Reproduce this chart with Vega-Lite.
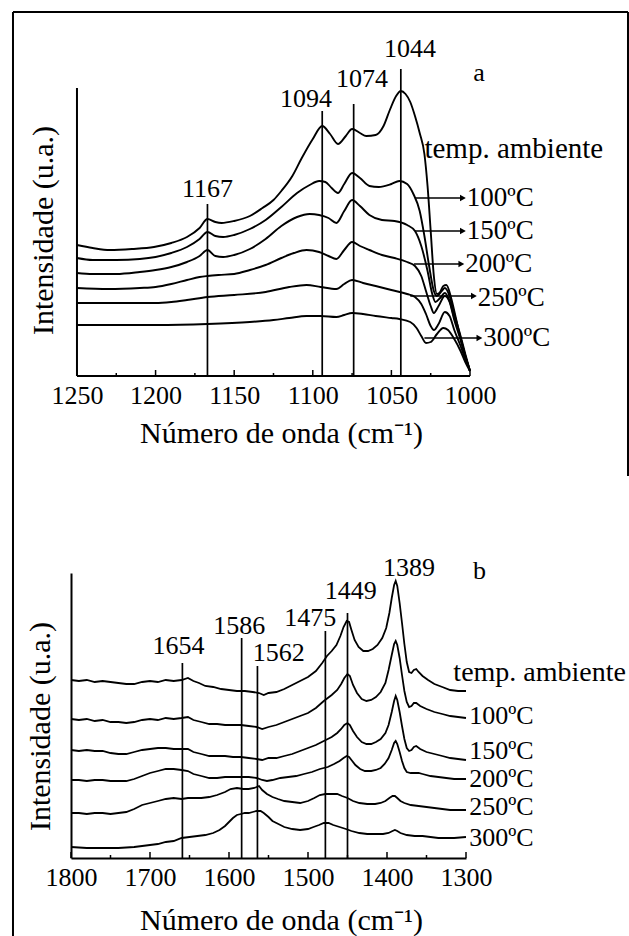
{
  "$schema": "https://vega.github.io/schema/vega-lite/v6.json",
  "padding": {"left": 11, "top": 11, "right": 0, "bottom": 0},
  "background": "white",
  "spacing": 197,
  "bounds": "flush",
  "config": {
    "view": {"stroke": null},
    "font": "Liberation Serif",
    "text": {"font": "Liberation Serif", "color": "#000"},
    "axis": {"labelFont": "Liberation Serif", "titleFont": "Liberation Serif", "labelColor": "#000", "titleColor": "#000", "titleFontWeight": "normal", "domainColor": "#000", "domainWidth": 2, "grid": false}
  },
  "datasets": {
    "a_spec": [
      {"s":"temp. ambiente","w":1250,"I":131},{"s":"temp. ambiente","w":1240,"I":128},{"s":"temp. ambiente","w":1229,"I":126},{"s":"temp. ambiente","w":1215,"I":127},{"s":"temp. ambiente","w":1201,"I":129},{"s":"temp. ambiente","w":1190,"I":133},{"s":"temp. ambiente","w":1180,"I":139},{"s":"temp. ambiente","w":1172,"I":148},{"s":"temp. ambiente","w":1167,"I":157},{"s":"temp. ambiente","w":1162,"I":154},{"s":"temp. ambiente","w":1158,"I":153},{"s":"temp. ambiente","w":1150,"I":155},{"s":"temp. ambiente","w":1140,"I":160},{"s":"temp. ambiente","w":1132,"I":168},{"s":"temp. ambiente","w":1125,"I":176},{"s":"temp. ambiente","w":1120,"I":185},{"s":"temp. ambiente","w":1113,"I":200},{"s":"temp. ambiente","w":1107,"I":218},{"s":"temp. ambiente","w":1100,"I":237},{"s":"temp. ambiente","w":1094,"I":250},{"s":"temp. ambiente","w":1089,"I":242},{"s":"temp. ambiente","w":1084,"I":232},{"s":"temp. ambiente","w":1079,"I":240},{"s":"temp. ambiente","w":1075,"I":247},{"s":"temp. ambiente","w":1070,"I":243},{"s":"temp. ambiente","w":1066,"I":240},{"s":"temp. ambiente","w":1060,"I":241},{"s":"temp. ambiente","w":1055,"I":250},{"s":"temp. ambiente","w":1051,"I":266},{"s":"temp. ambiente","w":1047,"I":280},{"s":"temp. ambiente","w":1044,"I":285},{"s":"temp. ambiente","w":1041,"I":282},{"s":"temp. ambiente","w":1038,"I":274},{"s":"temp. ambiente","w":1035,"I":260},{"s":"temp. ambiente","w":1032,"I":243},{"s":"temp. ambiente","w":1029,"I":222},{"s":"temp. ambiente","w":1027,"I":190},{"s":"temp. ambiente","w":1025,"I":145},{"s":"temp. ambiente","w":1023,"I":100},{"s":"temp. ambiente","w":1021,"I":82},{"s":"temp. ambiente","w":1019,"I":84},{"s":"temp. ambiente","w":1017,"I":90},{"s":"temp. ambiente","w":1015,"I":91},{"s":"temp. ambiente","w":1012,"I":78},{"s":"temp. ambiente","w":1009,"I":58},{"s":"temp. ambiente","w":1006,"I":38},{"s":"temp. ambiente","w":1003,"I":20},{"s":"temp. ambiente","w":1000,"I":5},
      {"s":"100ºC","w":1250,"I":118},{"s":"100ºC","w":1240,"I":116},{"s":"100ºC","w":1225,"I":116},{"s":"100ºC","w":1210,"I":117},{"s":"100ºC","w":1200,"I":119},{"s":"100ºC","w":1190,"I":123},{"s":"100ºC","w":1180,"I":129},{"s":"100ºC","w":1172,"I":137},{"s":"100ºC","w":1167,"I":144},{"s":"100ºC","w":1162,"I":140},{"s":"100ºC","w":1157,"I":139},{"s":"100ºC","w":1150,"I":141},{"s":"100ºC","w":1140,"I":147},{"s":"100ºC","w":1130,"I":156},{"s":"100ºC","w":1120,"I":169},{"s":"100ºC","w":1110,"I":183},{"s":"100ºC","w":1102,"I":191},{"s":"100ºC","w":1096,"I":195},{"s":"100ºC","w":1092,"I":194},{"s":"100ºC","w":1088,"I":188},{"s":"100ºC","w":1084,"I":183},{"s":"100ºC","w":1080,"I":192},{"s":"100ºC","w":1075,"I":203},{"s":"100ºC","w":1070,"I":198},{"s":"100ºC","w":1064,"I":190},{"s":"100ºC","w":1058,"I":189},{"s":"100ºC","w":1050,"I":192},{"s":"100ºC","w":1045,"I":195},{"s":"100ºC","w":1040,"I":192},{"s":"100ºC","w":1036,"I":182},{"s":"100ºC","w":1032,"I":165},{"s":"100ºC","w":1029,"I":140},{"s":"100ºC","w":1026,"I":110},{"s":"100ºC","w":1023,"I":85},{"s":"100ºC","w":1021,"I":80},{"s":"100ºC","w":1018,"I":85},{"s":"100ºC","w":1016,"I":88},{"s":"100ºC","w":1013,"I":80},{"s":"100ºC","w":1010,"I":62},{"s":"100ºC","w":1006,"I":40},{"s":"100ºC","w":1003,"I":22},{"s":"100ºC","w":1000,"I":5},
      {"s":"150ºC","w":1250,"I":103},{"s":"150ºC","w":1240,"I":102},{"s":"150ºC","w":1225,"I":102},{"s":"150ºC","w":1210,"I":104},{"s":"150ºC","w":1200,"I":106},{"s":"150ºC","w":1190,"I":109},{"s":"150ºC","w":1180,"I":114},{"s":"150ºC","w":1172,"I":120},{"s":"150ºC","w":1167,"I":126},{"s":"150ºC","w":1162,"I":120},{"s":"150ºC","w":1157,"I":119},{"s":"150ºC","w":1150,"I":121},{"s":"150ºC","w":1140,"I":127},{"s":"150ºC","w":1130,"I":137},{"s":"150ºC","w":1120,"I":150},{"s":"150ºC","w":1110,"I":159},{"s":"150ºC","w":1102,"I":162},{"s":"150ºC","w":1096,"I":161},{"s":"150ºC","w":1090,"I":158},{"s":"150ºC","w":1085,"I":153},{"s":"150ºC","w":1080,"I":165},{"s":"150ºC","w":1075,"I":176},{"s":"150ºC","w":1070,"I":170},{"s":"150ºC","w":1064,"I":161},{"s":"150ºC","w":1056,"I":156},{"s":"150ºC","w":1048,"I":155},{"s":"150ºC","w":1040,"I":151},{"s":"150ºC","w":1035,"I":145},{"s":"150ºC","w":1031,"I":130},{"s":"150ºC","w":1027,"I":105},{"s":"150ºC","w":1024,"I":82},{"s":"150ºC","w":1022,"I":74},{"s":"150ºC","w":1019,"I":78},{"s":"150ºC","w":1016,"I":83},{"s":"150ºC","w":1013,"I":75},{"s":"150ºC","w":1010,"I":58},{"s":"150ºC","w":1006,"I":38},{"s":"150ºC","w":1003,"I":20},{"s":"150ºC","w":1000,"I":5},
      {"s":"200ºC","w":1250,"I":88},{"s":"200ºC","w":1230,"I":87},{"s":"200ºC","w":1210,"I":88},{"s":"200ºC","w":1200,"I":89},{"s":"200ºC","w":1190,"I":92},{"s":"200ºC","w":1180,"I":96},{"s":"200ºC","w":1172,"I":99},{"s":"200ºC","w":1167,"I":100},{"s":"200ºC","w":1160,"I":101},{"s":"200ºC","w":1150,"I":102},{"s":"200ºC","w":1140,"I":106},{"s":"200ºC","w":1130,"I":111},{"s":"200ºC","w":1120,"I":118},{"s":"200ºC","w":1112,"I":123},{"s":"200ºC","w":1104,"I":126},{"s":"200ºC","w":1096,"I":124},{"s":"200ºC","w":1090,"I":120},{"s":"200ºC","w":1085,"I":117},{"s":"200ºC","w":1080,"I":126},{"s":"200ºC","w":1075,"I":134},{"s":"200ºC","w":1070,"I":130},{"s":"200ºC","w":1064,"I":126},{"s":"200ºC","w":1056,"I":121},{"s":"200ºC","w":1048,"I":118},{"s":"200ºC","w":1040,"I":114},{"s":"200ºC","w":1035,"I":110},{"s":"200ºC","w":1031,"I":100},{"s":"200ºC","w":1028,"I":85},{"s":"200ºC","w":1025,"I":70},{"s":"200ºC","w":1023,"I":63},{"s":"200ºC","w":1020,"I":70},{"s":"200ºC","w":1016,"I":80},{"s":"200ºC","w":1013,"I":74},{"s":"200ºC","w":1010,"I":56},{"s":"200ºC","w":1006,"I":36},{"s":"200ºC","w":1003,"I":20},{"s":"200ºC","w":1000,"I":5},
      {"s":"250ºC","w":1250,"I":73},{"s":"250ºC","w":1220,"I":73},{"s":"250ºC","w":1200,"I":73},{"s":"250ºC","w":1190,"I":74},{"s":"250ºC","w":1180,"I":76},{"s":"250ºC","w":1167,"I":79},{"s":"250ºC","w":1150,"I":81},{"s":"250ºC","w":1130,"I":84},{"s":"250ºC","w":1115,"I":89},{"s":"250ºC","w":1104,"I":91},{"s":"250ºC","w":1095,"I":89},{"s":"250ºC","w":1085,"I":87},{"s":"250ºC","w":1080,"I":92},{"s":"250ºC","w":1075,"I":96},{"s":"250ºC","w":1068,"I":93},{"s":"250ºC","w":1060,"I":90},{"s":"250ºC","w":1050,"I":86},{"s":"250ºC","w":1040,"I":82},{"s":"250ºC","w":1035,"I":79},{"s":"250ºC","w":1031,"I":72},{"s":"250ºC","w":1028,"I":62},{"s":"250ºC","w":1025,"I":50},{"s":"250ºC","w":1023,"I":46},{"s":"250ºC","w":1020,"I":52},{"s":"250ºC","w":1016,"I":64},{"s":"250ºC","w":1013,"I":60},{"s":"250ºC","w":1010,"I":46},{"s":"250ºC","w":1006,"I":30},{"s":"250ºC","w":1003,"I":17},{"s":"250ºC","w":1000,"I":5},
      {"s":"300ºC","w":1250,"I":51},{"s":"300ºC","w":1220,"I":51},{"s":"300ºC","w":1200,"I":51},{"s":"300ºC","w":1167,"I":52},{"s":"300ºC","w":1140,"I":54},{"s":"300ºC","w":1125,"I":56},{"s":"300ºC","w":1115,"I":58},{"s":"300ºC","w":1104,"I":60},{"s":"300ºC","w":1095,"I":60},{"s":"300ºC","w":1085,"I":59},{"s":"300ºC","w":1080,"I":61},{"s":"300ºC","w":1075,"I":63},{"s":"300ºC","w":1068,"I":62},{"s":"300ºC","w":1060,"I":60},{"s":"300ºC","w":1050,"I":58},{"s":"300ºC","w":1045,"I":57},{"s":"300ºC","w":1038,"I":54},{"s":"300ºC","w":1034,"I":48},{"s":"300ºC","w":1031,"I":40},{"s":"300ºC","w":1028,"I":33},{"s":"300ºC","w":1025,"I":34},{"s":"300ºC","w":1021,"I":42},{"s":"300ºC","w":1017,"I":48},{"s":"300ºC","w":1014,"I":46},{"s":"300ºC","w":1010,"I":37},{"s":"300ºC","w":1006,"I":25},{"s":"300ºC","w":1003,"I":14},{"s":"300ºC","w":1000,"I":5}
    ],
    "a_peaks": [{"w":1167,"top":172},{"w":1094,"top":265},{"w":1074,"top":272},{"w":1044,"top":307}],
    "a_notes": [{"w":1167,"I":187,"t":"1167"},{"w":1104.3,"I":277,"t":"1094"},{"w":1068.7,"I":297,"t":"1074"},{"w":1038.2,"I":327,"t":"1044"},{"w":994.3,"I":303,"t":"a"}],
    "a_amb": [{"w":1029,"I":227,"t":"temp. ambiente"}],
    "a_series": [{"w":1002,"I":178,"t":"100ºC"},{"w":1002,"I":145,"t":"150ºC"},{"w":1003,"I":112,"t":"200ºC"},{"w":995,"I":78,"t":"250ºC"},{"w":991.5,"I":38,"t":"300ºC"}],
    "a_arrows": [{"w1":1035,"w2":1004.5,"I":178},{"w1":1035,"w2":1004.5,"I":145},{"w1":1035.6,"w2":1005.5,"I":112},{"w1":1038,"w2":997.5,"I":80},{"w1":1029,"w2":994,"I":38}],
    "a_major": [{"w":1250},{"w":1200},{"w":1150},{"w":1100},{"w":1050},{"w":1000}],
    "a_minor": [{"w":1225},{"w":1175},{"w":1125},{"w":1075},{"w":1025}],
    "b_spec": [
      {"s":"temp. ambiente","w":1800,"I":178},{"s":"temp. ambiente","w":1790,"I":177},{"s":"temp. ambiente","w":1780,"I":178},{"s":"temp. ambiente","w":1770,"I":176},{"s":"temp. ambiente","w":1760,"I":177},{"s":"temp. ambiente","w":1750,"I":176},{"s":"temp. ambiente","w":1740,"I":175},{"s":"temp. ambiente","w":1730,"I":174},{"s":"temp. ambiente","w":1720,"I":174},{"s":"temp. ambiente","w":1710,"I":176},{"s":"temp. ambiente","w":1700,"I":177},{"s":"temp. ambiente","w":1690,"I":176},{"s":"temp. ambiente","w":1680,"I":178},{"s":"temp. ambiente","w":1670,"I":177},{"s":"temp. ambiente","w":1660,"I":178},{"s":"temp. ambiente","w":1652,"I":180},{"s":"temp. ambiente","w":1645,"I":177},{"s":"temp. ambiente","w":1638,"I":175},{"s":"temp. ambiente","w":1630,"I":172},{"s":"temp. ambiente","w":1620,"I":171},{"s":"temp. ambiente","w":1610,"I":169},{"s":"temp. ambiente","w":1600,"I":168},{"s":"temp. ambiente","w":1590,"I":167},{"s":"temp. ambiente","w":1580,"I":167},{"s":"temp. ambiente","w":1570,"I":166},{"s":"temp. ambiente","w":1562,"I":165},{"s":"temp. ambiente","w":1556,"I":163},{"s":"temp. ambiente","w":1550,"I":165},{"s":"temp. ambiente","w":1540,"I":166},{"s":"temp. ambiente","w":1530,"I":169},{"s":"temp. ambiente","w":1520,"I":173},{"s":"temp. ambiente","w":1510,"I":177},{"s":"temp. ambiente","w":1500,"I":181},{"s":"temp. ambiente","w":1490,"I":187},{"s":"temp. ambiente","w":1482,"I":195},{"s":"temp. ambiente","w":1476,"I":202},{"s":"temp. ambiente","w":1470,"I":207},{"s":"temp. ambiente","w":1464,"I":213},{"s":"temp. ambiente","w":1459,"I":222},{"s":"temp. ambiente","w":1455,"I":231},{"s":"temp. ambiente","w":1451,"I":237},{"s":"temp. ambiente","w":1448,"I":236},{"s":"temp. ambiente","w":1445,"I":228},{"s":"temp. ambiente","w":1441,"I":218},{"s":"temp. ambiente","w":1436,"I":211},{"s":"temp. ambiente","w":1430,"I":207},{"s":"temp. ambiente","w":1424,"I":207},{"s":"temp. ambiente","w":1418,"I":209},{"s":"temp. ambiente","w":1412,"I":213},{"s":"temp. ambiente","w":1406,"I":220},{"s":"temp. ambiente","w":1401,"I":230},{"s":"temp. ambiente","w":1397,"I":245},{"s":"temp. ambiente","w":1394,"I":260},{"s":"temp. ambiente","w":1391,"I":273},{"s":"temp. ambiente","w":1389,"I":277},{"s":"temp. ambiente","w":1387,"I":272},{"s":"temp. ambiente","w":1384,"I":255},{"s":"temp. ambiente","w":1381,"I":235},{"s":"temp. ambiente","w":1378,"I":214},{"s":"temp. ambiente","w":1375,"I":196},{"s":"temp. ambiente","w":1372,"I":186},{"s":"temp. ambiente","w":1369,"I":185},{"s":"temp. ambiente","w":1366,"I":188},{"s":"temp. ambiente","w":1363,"I":189},{"s":"temp. ambiente","w":1360,"I":186},{"s":"temp. ambiente","w":1355,"I":182},{"s":"temp. ambiente","w":1348,"I":178},{"s":"temp. ambiente","w":1340,"I":174},{"s":"temp. ambiente","w":1330,"I":171},{"s":"temp. ambiente","w":1320,"I":168},{"s":"temp. ambiente","w":1310,"I":167},{"s":"temp. ambiente","w":1300,"I":167},
      {"s":"100ºC","w":1800,"I":139},{"s":"100ºC","w":1790,"I":138},{"s":"100ºC","w":1780,"I":139},{"s":"100ºC","w":1770,"I":137},{"s":"100ºC","w":1760,"I":138},{"s":"100ºC","w":1750,"I":136},{"s":"100ºC","w":1740,"I":136},{"s":"100ºC","w":1730,"I":135},{"s":"100ºC","w":1720,"I":136},{"s":"100ºC","w":1710,"I":138},{"s":"100ºC","w":1700,"I":139},{"s":"100ºC","w":1690,"I":138},{"s":"100ºC","w":1680,"I":140},{"s":"100ºC","w":1670,"I":139},{"s":"100ºC","w":1660,"I":140},{"s":"100ºC","w":1652,"I":141},{"s":"100ºC","w":1645,"I":138},{"s":"100ºC","w":1635,"I":136},{"s":"100ºC","w":1625,"I":134},{"s":"100ºC","w":1615,"I":134},{"s":"100ºC","w":1605,"I":133},{"s":"100ºC","w":1595,"I":133},{"s":"100ºC","w":1585,"I":133},{"s":"100ºC","w":1575,"I":132},{"s":"100ºC","w":1565,"I":131},{"s":"100ºC","w":1558,"I":129},{"s":"100ºC","w":1550,"I":131},{"s":"100ºC","w":1540,"I":133},{"s":"100ºC","w":1530,"I":136},{"s":"100ºC","w":1520,"I":139},{"s":"100ºC","w":1510,"I":142},{"s":"100ºC","w":1500,"I":145},{"s":"100ºC","w":1490,"I":150},{"s":"100ºC","w":1480,"I":157},{"s":"100ºC","w":1470,"I":163},{"s":"100ºC","w":1463,"I":168},{"s":"100ºC","w":1458,"I":174},{"s":"100ºC","w":1454,"I":180},{"s":"100ºC","w":1450,"I":184},{"s":"100ºC","w":1447,"I":182},{"s":"100ºC","w":1443,"I":173},{"s":"100ºC","w":1438,"I":165},{"s":"100ºC","w":1432,"I":159},{"s":"100ºC","w":1426,"I":157},{"s":"100ºC","w":1420,"I":158},{"s":"100ºC","w":1414,"I":161},{"s":"100ºC","w":1408,"I":166},{"s":"100ºC","w":1402,"I":175},{"s":"100ºC","w":1398,"I":188},{"s":"100ºC","w":1394,"I":203},{"s":"100ºC","w":1391,"I":214},{"s":"100ºC","w":1389,"I":217},{"s":"100ºC","w":1387,"I":213},{"s":"100ºC","w":1384,"I":200},{"s":"100ºC","w":1381,"I":183},{"s":"100ºC","w":1378,"I":167},{"s":"100ºC","w":1375,"I":156},{"s":"100ºC","w":1372,"I":151},{"s":"100ºC","w":1369,"I":152},{"s":"100ºC","w":1366,"I":155},{"s":"100ºC","w":1363,"I":155},{"s":"100ºC","w":1358,"I":152},{"s":"100ºC","w":1350,"I":149},{"s":"100ºC","w":1340,"I":146},{"s":"100ºC","w":1330,"I":144},{"s":"100ºC","w":1320,"I":142},{"s":"100ºC","w":1310,"I":141},{"s":"100ºC","w":1300,"I":140},
      {"s":"150ºC","w":1800,"I":108},{"s":"150ºC","w":1790,"I":107},{"s":"150ºC","w":1780,"I":108},{"s":"150ºC","w":1770,"I":107},{"s":"150ºC","w":1760,"I":107},{"s":"150ºC","w":1750,"I":105},{"s":"150ºC","w":1740,"I":104},{"s":"150ºC","w":1730,"I":104},{"s":"150ºC","w":1720,"I":106},{"s":"150ºC","w":1710,"I":108},{"s":"150ºC","w":1700,"I":109},{"s":"150ºC","w":1690,"I":110},{"s":"150ºC","w":1680,"I":110},{"s":"150ºC","w":1670,"I":109},{"s":"150ºC","w":1660,"I":109},{"s":"150ºC","w":1652,"I":109},{"s":"150ºC","w":1645,"I":106},{"s":"150ºC","w":1635,"I":104},{"s":"150ºC","w":1625,"I":102},{"s":"150ºC","w":1615,"I":102},{"s":"150ºC","w":1605,"I":102},{"s":"150ºC","w":1595,"I":101},{"s":"150ºC","w":1585,"I":101},{"s":"150ºC","w":1575,"I":100},{"s":"150ºC","w":1565,"I":99},{"s":"150ºC","w":1558,"I":98},{"s":"150ºC","w":1550,"I":100},{"s":"150ºC","w":1540,"I":100},{"s":"150ºC","w":1530,"I":102},{"s":"150ºC","w":1520,"I":104},{"s":"150ºC","w":1510,"I":107},{"s":"150ºC","w":1500,"I":110},{"s":"150ºC","w":1490,"I":113},{"s":"150ºC","w":1480,"I":117},{"s":"150ºC","w":1470,"I":121},{"s":"150ºC","w":1463,"I":125},{"s":"150ºC","w":1458,"I":129},{"s":"150ºC","w":1454,"I":133},{"s":"150ºC","w":1450,"I":135},{"s":"150ºC","w":1447,"I":133},{"s":"150ºC","w":1443,"I":127},{"s":"150ºC","w":1438,"I":121},{"s":"150ºC","w":1432,"I":116},{"s":"150ºC","w":1426,"I":114},{"s":"150ºC","w":1420,"I":114},{"s":"150ºC","w":1414,"I":116},{"s":"150ºC","w":1408,"I":119},{"s":"150ºC","w":1402,"I":125},{"s":"150ºC","w":1398,"I":133},{"s":"150ºC","w":1394,"I":146},{"s":"150ºC","w":1391,"I":157},{"s":"150ºC","w":1389,"I":162},{"s":"150ºC","w":1387,"I":158},{"s":"150ºC","w":1384,"I":146},{"s":"150ºC","w":1381,"I":132},{"s":"150ºC","w":1378,"I":119},{"s":"150ºC","w":1375,"I":110},{"s":"150ºC","w":1372,"I":107},{"s":"150ºC","w":1369,"I":108},{"s":"150ºC","w":1366,"I":111},{"s":"150ºC","w":1363,"I":112},{"s":"150ºC","w":1358,"I":109},{"s":"150ºC","w":1350,"I":106},{"s":"150ºC","w":1340,"I":104},{"s":"150ºC","w":1330,"I":102},{"s":"150ºC","w":1320,"I":100},{"s":"150ºC","w":1310,"I":99},{"s":"150ºC","w":1300,"I":98},
      {"s":"200ºC","w":1800,"I":78},{"s":"200ºC","w":1790,"I":78},{"s":"200ºC","w":1780,"I":77},{"s":"200ºC","w":1770,"I":78},{"s":"200ºC","w":1760,"I":78},{"s":"200ºC","w":1750,"I":77},{"s":"200ºC","w":1740,"I":77},{"s":"200ºC","w":1730,"I":77},{"s":"200ºC","w":1720,"I":79},{"s":"200ºC","w":1710,"I":82},{"s":"200ºC","w":1700,"I":85},{"s":"200ºC","w":1690,"I":87},{"s":"200ºC","w":1680,"I":89},{"s":"200ºC","w":1670,"I":89},{"s":"200ºC","w":1660,"I":88},{"s":"200ºC","w":1652,"I":87},{"s":"200ºC","w":1645,"I":84},{"s":"200ºC","w":1635,"I":82},{"s":"200ºC","w":1625,"I":80},{"s":"200ºC","w":1615,"I":80},{"s":"200ºC","w":1605,"I":81},{"s":"200ºC","w":1595,"I":81},{"s":"200ºC","w":1585,"I":81},{"s":"200ºC","w":1575,"I":81},{"s":"200ºC","w":1565,"I":80},{"s":"200ºC","w":1558,"I":78},{"s":"200ºC","w":1552,"I":77},{"s":"200ºC","w":1545,"I":78},{"s":"200ºC","w":1535,"I":80},{"s":"200ºC","w":1525,"I":81},{"s":"200ºC","w":1515,"I":82},{"s":"200ºC","w":1505,"I":84},{"s":"200ºC","w":1495,"I":86},{"s":"200ºC","w":1485,"I":89},{"s":"200ºC","w":1475,"I":91},{"s":"200ºC","w":1467,"I":94},{"s":"200ºC","w":1460,"I":97},{"s":"200ºC","w":1455,"I":100},{"s":"200ºC","w":1451,"I":102},{"s":"200ºC","w":1448,"I":101},{"s":"200ºC","w":1444,"I":97},{"s":"200ºC","w":1440,"I":93},{"s":"200ºC","w":1434,"I":89},{"s":"200ºC","w":1428,"I":87},{"s":"200ºC","w":1420,"I":87},{"s":"200ºC","w":1414,"I":88},{"s":"200ºC","w":1408,"I":90},{"s":"200ºC","w":1403,"I":94},{"s":"200ºC","w":1398,"I":100},{"s":"200ºC","w":1394,"I":108},{"s":"200ºC","w":1391,"I":115},{"s":"200ºC","w":1389,"I":117},{"s":"200ºC","w":1387,"I":114},{"s":"200ºC","w":1384,"I":106},{"s":"200ºC","w":1381,"I":97},{"s":"200ºC","w":1378,"I":90},{"s":"200ºC","w":1375,"I":86},{"s":"200ºC","w":1370,"I":85},{"s":"200ºC","w":1365,"I":85},{"s":"200ºC","w":1360,"I":85},{"s":"200ºC","w":1355,"I":84},{"s":"200ºC","w":1345,"I":82},{"s":"200ºC","w":1335,"I":81},{"s":"200ºC","w":1325,"I":80},{"s":"200ºC","w":1315,"I":79},{"s":"200ºC","w":1300,"I":79},
      {"s":"250ºC","w":1800,"I":45},{"s":"250ºC","w":1790,"I":45},{"s":"250ºC","w":1780,"I":44},{"s":"250ºC","w":1770,"I":45},{"s":"250ºC","w":1760,"I":45},{"s":"250ºC","w":1750,"I":44},{"s":"250ºC","w":1740,"I":45},{"s":"250ºC","w":1730,"I":46},{"s":"250ºC","w":1720,"I":49},{"s":"250ºC","w":1710,"I":53},{"s":"250ºC","w":1700,"I":55},{"s":"250ºC","w":1690,"I":57},{"s":"250ºC","w":1680,"I":59},{"s":"250ºC","w":1670,"I":60},{"s":"250ºC","w":1660,"I":59},{"s":"250ºC","w":1652,"I":60},{"s":"250ºC","w":1645,"I":60},{"s":"250ºC","w":1635,"I":60},{"s":"250ºC","w":1625,"I":61},{"s":"250ºC","w":1615,"I":63},{"s":"250ºC","w":1605,"I":66},{"s":"250ºC","w":1598,"I":69},{"s":"250ºC","w":1590,"I":70},{"s":"250ºC","w":1582,"I":69},{"s":"250ºC","w":1575,"I":69},{"s":"250ºC","w":1568,"I":70},{"s":"250ºC","w":1562,"I":72},{"s":"250ºC","w":1558,"I":68},{"s":"250ºC","w":1552,"I":64},{"s":"250ºC","w":1545,"I":61},{"s":"250ºC","w":1538,"I":59},{"s":"250ºC","w":1530,"I":57},{"s":"250ºC","w":1520,"I":56},{"s":"250ºC","w":1510,"I":55},{"s":"250ºC","w":1500,"I":57},{"s":"250ºC","w":1492,"I":60},{"s":"250ºC","w":1485,"I":63},{"s":"250ºC","w":1478,"I":64},{"s":"250ºC","w":1470,"I":64},{"s":"250ºC","w":1463,"I":64},{"s":"250ºC","w":1457,"I":62},{"s":"250ºC","w":1450,"I":60},{"s":"250ºC","w":1443,"I":57},{"s":"250ºC","w":1435,"I":55},{"s":"250ºC","w":1425,"I":54},{"s":"250ºC","w":1415,"I":54},{"s":"250ºC","w":1408,"I":55},{"s":"250ºC","w":1402,"I":57},{"s":"250ºC","w":1397,"I":60},{"s":"250ºC","w":1393,"I":62},{"s":"250ºC","w":1390,"I":62},{"s":"250ºC","w":1387,"I":60},{"s":"250ºC","w":1383,"I":57},{"s":"250ºC","w":1378,"I":55},{"s":"250ºC","w":1370,"I":53},{"s":"250ºC","w":1360,"I":52},{"s":"250ºC","w":1350,"I":51},{"s":"250ºC","w":1340,"I":50},{"s":"250ºC","w":1330,"I":49},{"s":"250ºC","w":1320,"I":48},{"s":"250ºC","w":1310,"I":48},{"s":"250ºC","w":1300,"I":48},
      {"s":"300ºC","w":1800,"I":11},{"s":"300ºC","w":1780,"I":10},{"s":"300ºC","w":1760,"I":10},{"s":"300ºC","w":1740,"I":10},{"s":"300ºC","w":1720,"I":11},{"s":"300ºC","w":1700,"I":13},{"s":"300ºC","w":1690,"I":14},{"s":"300ºC","w":1680,"I":16},{"s":"300ºC","w":1670,"I":17},{"s":"300ºC","w":1660,"I":20},{"s":"300ºC","w":1650,"I":21},{"s":"300ºC","w":1640,"I":22},{"s":"300ºC","w":1630,"I":23},{"s":"300ºC","w":1620,"I":25},{"s":"300ºC","w":1612,"I":28},{"s":"300ºC","w":1605,"I":32},{"s":"300ºC","w":1600,"I":36},{"s":"300ºC","w":1595,"I":40},{"s":"300ºC","w":1590,"I":43},{"s":"300ºC","w":1585,"I":44},{"s":"300ºC","w":1580,"I":45},{"s":"300ºC","w":1575,"I":45},{"s":"300ºC","w":1570,"I":46},{"s":"300ºC","w":1565,"I":47},{"s":"300ºC","w":1560,"I":47},{"s":"300ºC","w":1556,"I":45},{"s":"300ºC","w":1550,"I":41},{"s":"300ºC","w":1545,"I":37},{"s":"300ºC","w":1540,"I":35},{"s":"300ºC","w":1530,"I":31},{"s":"300ºC","w":1520,"I":29},{"s":"300ºC","w":1510,"I":28},{"s":"300ºC","w":1500,"I":29},{"s":"300ºC","w":1493,"I":31},{"s":"300ºC","w":1486,"I":33},{"s":"300ºC","w":1480,"I":35},{"s":"300ºC","w":1474,"I":35},{"s":"300ºC","w":1468,"I":33},{"s":"300ºC","w":1460,"I":31},{"s":"300ºC","w":1452,"I":29},{"s":"300ºC","w":1445,"I":27},{"s":"300ºC","w":1435,"I":25},{"s":"300ºC","w":1425,"I":24},{"s":"300ºC","w":1415,"I":24},{"s":"300ºC","w":1405,"I":24},{"s":"300ºC","w":1398,"I":25},{"s":"300ºC","w":1393,"I":27},{"s":"300ºC","w":1390,"I":28},{"s":"300ºC","w":1387,"I":27},{"s":"300ºC","w":1383,"I":25},{"s":"300ºC","w":1375,"I":23},{"s":"300ºC","w":1365,"I":22},{"s":"300ºC","w":1355,"I":22},{"s":"300ºC","w":1345,"I":21},{"s":"300ºC","w":1335,"I":20},{"s":"300ºC","w":1325,"I":20},{"s":"300ºC","w":1315,"I":20},{"s":"300ºC","w":1300,"I":21}
    ],
    "b_peaks": [{"w":1659,"top":195},{"w":1584,"top":220},{"w":1564,"top":192},{"w":1478,"top":227},{"w":1450,"top":245}],
    "b_notes": [{"w":1664,"I":212,"t":"1654"},{"w":1587,"I":232,"t":"1586"},{"w":1537,"I":205,"t":"1562"},{"w":1497,"I":240,"t":"1475"},{"w":1446,"I":267,"t":"1449"},{"w":1372,"I":290,"t":"1389"},{"w":1283,"I":287,"t":"b"}],
    "b_amb": [{"w":1316,"I":185,"t":"temp. ambiente"}],
    "b_series": [{"w":1296,"I":142,"t":"100ºC"},{"w":1296,"I":107,"t":"150ºC"},{"w":1296,"I":79,"t":"200ºC"},{"w":1296,"I":51,"t":"250ºC"},{"w":1296,"I":20,"t":"300ºC"}],
    "b_major": [{"w":1800},{"w":1700},{"w":1600},{"w":1500},{"w":1400},{"w":1300}],
    "b_minor": [{"w":1750},{"w":1650},{"w":1550},{"w":1450},{"w":1350}]
  },
  "vconcat": [
    {
      "width": 399,
      "height": 288,
      "layer": [
        {
          "data": {"name": "a_spec"},
          "mark": {"type": "line", "interpolate": "monotone", "color": "#000", "strokeWidth": 1.9},
          "encoding": {
            "x": {"field": "w", "type": "quantitative", "scale": {"domain": [1000, 1253.8], "reverse": true, "nice": false, "zero": false},
              "axis": {"values": [1250, 1200, 1150, 1100, 1050, 1000], "format": "d", "domain": false, "ticks": false, "labelFlush": false, "labelOverlap": false, "labelPadding": 6, "labelFont": "Liberation Serif", "labelFontSize": 26, "title": "Número de onda (cm⁻¹)", "titleFont": "Liberation Serif", "titleFontSize": 30, "titleX": 210, "titleY": 57, "titleAlign": "center", "titleBaseline": "middle"}},
            "y": {"field": "I", "type": "quantitative", "scale": {"domain": [0, 288], "nice": false, "zero": false},
              "axis": {"domain": false, "ticks": false, "labels": false, "title": "Intensidade (u.a.)", "titleFont": "Liberation Serif", "titleFontSize": 30, "titleX": -27.5, "titleY": 142, "titleAlign": "center", "titleBaseline": "middle", "titleAngle": 270}},
            "detail": {"field": "s", "type": "nominal"}
          }
        },
        {
          "data": {"name": "a_peaks"},
          "mark": {"type": "rule", "color": "#000", "strokeWidth": 1.7},
          "encoding": {"x": {"field": "w", "type": "quantitative"}, "y": {"field": "top", "type": "quantitative"}, "y2": {"datum": 0}}
        },
        {
          "data": {"name": "a_notes"},
          "mark": {"type": "text", "font": "Liberation Serif", "fontSize": 26, "align": "center", "baseline": "middle"},
          "encoding": {"x": {"field": "w", "type": "quantitative"}, "y": {"field": "I", "type": "quantitative"}, "text": {"field": "t", "type": "nominal"}}
        },
        {
          "data": {"name": "a_amb"},
          "mark": {"type": "text", "font": "Liberation Serif", "fontSize": 29, "align": "left", "baseline": "middle"},
          "encoding": {"x": {"field": "w", "type": "quantitative"}, "y": {"field": "I", "type": "quantitative"}, "text": {"field": "t", "type": "nominal"}}
        },
        {
          "data": {"name": "a_series"},
          "mark": {"type": "text", "font": "Liberation Serif", "fontSize": 27, "align": "left", "baseline": "middle"},
          "encoding": {"x": {"field": "w", "type": "quantitative"}, "y": {"field": "I", "type": "quantitative"}, "text": {"field": "t", "type": "nominal"}}
        },
        {
          "data": {"name": "a_arrows"},
          "mark": {"type": "rule", "color": "#000", "strokeWidth": 1.6},
          "encoding": {"x": {"field": "w1", "type": "quantitative"}, "x2": {"field": "w2"}, "y": {"field": "I", "type": "quantitative"}}
        },
        {
          "data": {"name": "a_arrows"},
          "mark": {"type": "point", "shape": "triangle-right", "filled": true, "color": "#000", "size": 45, "opacity": 1},
          "encoding": {"x": {"field": "w2", "type": "quantitative"}, "y": {"field": "I", "type": "quantitative"}}
        },
        {
          "data": {"name": "a_major"},
          "mark": {"type": "rule", "color": "#000", "strokeWidth": 1.5},
          "encoding": {"x": {"field": "w", "type": "quantitative"}, "y": {"datum": 6, "type": "quantitative"}, "y2": {"datum": 0}}
        },
        {
          "data": {"name": "a_minor"},
          "mark": {"type": "rule", "color": "#000", "strokeWidth": 1.5},
          "encoding": {"x": {"field": "w", "type": "quantitative"}, "y": {"datum": 3, "type": "quantitative"}, "y2": {"datum": 0}}
        },
        {
          "data": {"values": [{}]},
          "mark": {"type": "rule", "color": "#000", "strokeWidth": 2},
          "encoding": {"x": {"datum": 1250, "type": "quantitative"}, "x2": {"datum": 1000}, "y": {"datum": 0, "type": "quantitative"}}
        },
        {
          "data": {"values": [{}]},
          "mark": {"type": "rule", "color": "#000", "strokeWidth": 2},
          "encoding": {"x": {"datum": 1250, "type": "quantitative"}, "y": {"datum": 288, "type": "quantitative"}, "y2": {"datum": 0}}
        },
        {
          "data": {"values": [{}]},
          "mark": {"type": "rule", "color": "#000", "strokeWidth": 2},
          "encoding": {"x": {"datum": 1290.7, "type": "quantitative"}, "y": {"datum": 364, "type": "quantitative"}, "y2": {"datum": -575}}
        },
        {
          "data": {"values": [{}]},
          "mark": {"type": "rule", "color": "#000", "strokeWidth": 2},
          "encoding": {"x": {"datum": 1290.7, "type": "quantitative"}, "x2": {"datum": 899.5}, "y": {"datum": 364, "type": "quantitative"}}
        },
        {
          "data": {"values": [{}]},
          "mark": {"type": "rule", "color": "#000", "strokeWidth": 2},
          "encoding": {"x": {"datum": 899.5, "type": "quantitative"}, "y": {"datum": 364, "type": "quantitative"}, "y2": {"datum": -100}}
        }
      ]
    },
    {
      "width": 395,
      "height": 285,
      "layer": [
        {
          "data": {"name": "b_spec"},
          "mark": {"type": "line", "interpolate": "linear", "color": "#000", "strokeWidth": 1.8},
          "encoding": {
            "x": {"field": "w", "type": "quantitative", "scale": {"domain": [1300, 1800], "reverse": true, "nice": false, "zero": false},
              "axis": {"values": [1800, 1700, 1600, 1500, 1400, 1300], "format": "d", "domain": true, "ticks": false, "labelFlush": false, "labelOverlap": false, "labelPadding": 6, "labelFont": "Liberation Serif", "labelFontSize": 26, "title": "Número de onda (cm⁻¹)", "titleFont": "Liberation Serif", "titleFontSize": 30, "titleX": 210, "titleY": 62, "titleAlign": "center", "titleBaseline": "middle"}},
            "y": {"field": "I", "type": "quantitative", "scale": {"domain": [0, 285], "nice": false, "zero": false},
              "axis": {"domain": true, "ticks": false, "labels": false, "title": "Intensidade (u.a.)", "titleFont": "Liberation Serif", "titleFontSize": 30, "titleX": -30.5, "titleY": 153, "titleAlign": "center", "titleBaseline": "middle", "titleAngle": 270}},
            "detail": {"field": "s", "type": "nominal"}
          }
        },
        {
          "data": {"name": "b_peaks"},
          "mark": {"type": "rule", "color": "#000", "strokeWidth": 1.7},
          "encoding": {"x": {"field": "w", "type": "quantitative"}, "y": {"field": "top", "type": "quantitative"}, "y2": {"datum": 0}}
        },
        {
          "data": {"name": "b_notes"},
          "mark": {"type": "text", "font": "Liberation Serif", "fontSize": 26, "align": "center", "baseline": "middle"},
          "encoding": {"x": {"field": "w", "type": "quantitative"}, "y": {"field": "I", "type": "quantitative"}, "text": {"field": "t", "type": "nominal"}}
        },
        {
          "data": {"name": "b_amb"},
          "mark": {"type": "text", "font": "Liberation Serif", "fontSize": 28, "align": "left", "baseline": "middle"},
          "encoding": {"x": {"field": "w", "type": "quantitative"}, "y": {"field": "I", "type": "quantitative"}, "text": {"field": "t", "type": "nominal"}}
        },
        {
          "data": {"name": "b_series"},
          "mark": {"type": "text", "font": "Liberation Serif", "fontSize": 26, "align": "left", "baseline": "middle"},
          "encoding": {"x": {"field": "w", "type": "quantitative"}, "y": {"field": "I", "type": "quantitative"}, "text": {"field": "t", "type": "nominal"}}
        },
        {
          "data": {"name": "b_major"},
          "mark": {"type": "rule", "color": "#000", "strokeWidth": 1.5},
          "encoding": {"x": {"field": "w", "type": "quantitative"}, "y": {"datum": 6, "type": "quantitative"}, "y2": {"datum": 0}}
        },
        {
          "data": {"name": "b_minor"},
          "mark": {"type": "rule", "color": "#000", "strokeWidth": 1.5},
          "encoding": {"x": {"field": "w", "type": "quantitative"}, "y": {"datum": 3, "type": "quantitative"}, "y2": {"datum": 0}}
        }
      ]
    }
  ]
}
